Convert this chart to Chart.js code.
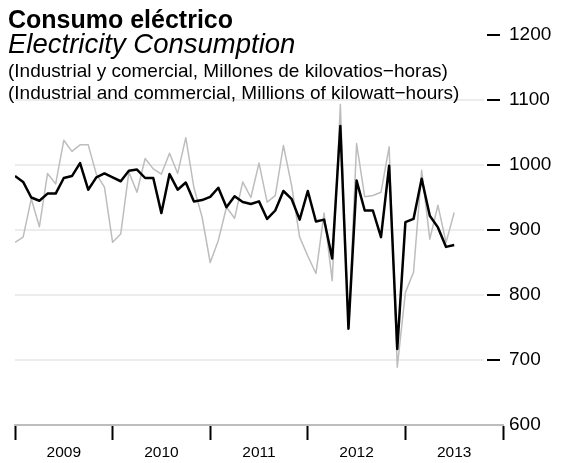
<!DOCTYPE html>
<html>
<head>
<meta charset="utf-8">
<script src="https://cdn.jsdelivr.net/npm/chart.js@4.4.1/dist/chart.umd.min.js"></script>
<style>
html,body{margin:0;padding:0;background:#fff;}
</style>
</head>
<body>
<canvas id="chart" width="576" height="463"></canvas>
<script>
// meses desde enero 2009 (0) hasta julio 2013 (54)
const yearLabels = ['2009', '2010', '2011', '2012', '2013'];
const yTicks = [600, 700, 800, 900, 1000, 1100, 1200];
const gridValues = [700, 800, 900, 1000, 1100];

// serie desestacionalizada (negro)
const ajustada = [
  983, 974, 950, 945, 956, 956, 980, 983, 1003, 962, 981, 987,
  981, 975, 991, 993, 980, 980, 926, 986, 962, 973, 944, 946,
  951, 965, 935, 952, 943, 940, 944, 917, 930, 960, 948, 916,
  960, 913, 916, 856, 1060, 748, 976, 930, 930, 889, 999, 717,
  912, 917, 979, 922, 904, 874, 877
];
// serie original (gris)
const original = [
  881, 889, 948, 905, 987, 971, 1038, 1021, 1031, 1031, 986, 966,
  881, 894, 989, 958, 1010, 994, 986, 1018, 987, 1042, 965, 920,
  850, 884, 935, 918, 974, 950, 1003, 943, 953, 1030, 969, 889,
  860, 833, 926, 822, 1093, 748, 1033, 951, 953, 958, 1028, 689,
  804, 835, 992, 886, 938, 881, 927
];

const titles = [
  { text: 'Consumo eléctrico', font: 'bold 25px "Liberation Sans", Arial, sans-serif', y: 28 },
  { text: 'Electricity Consumption', font: 'italic 27.5px "Liberation Sans", Arial, sans-serif', y: 53 },
  { text: '(Industrial y comercial, Millones de kilovatios\u2212horas)', font: '19px "Liberation Sans", Arial, sans-serif', y: 77 },
  { text: '(Industrial and commercial, Millions of kilowatt\u2212hours)', font: '19px "Liberation Sans", Arial, sans-serif', y: 99 }
];

const toPoints = arr => arr.map((v, i) => ({ x: i, y: v }));

const decor = {
  id: 'decor',
  beforeDatasetsDraw(chart) {
    const { ctx, chartArea, scales: { y } } = chart;
    ctx.save();
    ctx.strokeStyle = '#e6e6e6';
    ctx.lineWidth = 1.5;
    gridValues.forEach(v => {
      const py = y.getPixelForValue(v);
      ctx.beginPath();
      ctx.moveTo(chartArea.left, py);
      ctx.lineTo(chartArea.right - 19, py);
      ctx.stroke();
    });
    // marcas del eje derecho
    ctx.strokeStyle = '#000';
    ctx.lineWidth = 2;
    yTicks.slice(1).forEach(v => {
      const py = y.getPixelForValue(v);
      ctx.beginPath();
      ctx.moveTo(chartArea.right - 16, py);
      ctx.lineTo(chartArea.right - 3, py);
      ctx.stroke();
    });
    ctx.restore();
  },
  afterDraw(chart) {
    const ctx = chart.ctx;
    ctx.save();
    ctx.fillStyle = '#000';
    ctx.textBaseline = 'alphabetic';
    titles.forEach(t => {
      ctx.font = t.font;
      ctx.fillText(t.text, 8, t.y);
    });
    ctx.restore();
  }
};

new Chart(document.getElementById('chart'), {
  type: 'line',
  data: {
    datasets: [
      { data: toPoints(ajustada), borderColor: '#000', borderWidth: 2.5 },
      { data: toPoints(original), borderColor: '#bdbdbd', borderWidth: 1.5 }
    ]
  },
  options: {
    responsive: false,
    animation: false,
    layout: { padding: { left: 15, top: 35, right: 0, bottom: 0 } },
    elements: {
      point: { radius: 0 },
      line: { tension: 0, borderJoinStyle: 'round', fill: false }
    },
    plugins: { legend: { display: false }, tooltip: { enabled: false } },
    scales: {
      x: {
        type: 'linear',
        min: 0,
        max: yearLabels.length * 12,
        afterBuildTicks: s => {
          s.ticks = [];
          for (let m = 0; m <= yearLabels.length * 12; m += 6) s.ticks.push({ value: m });
        },
        afterFit: s => { s.height = 38; },
        ticks: {
          autoSkip: false,
          maxRotation: 0,
          padding: 3,
          color: '#000',
          font: { family: '"Liberation Sans", Arial, sans-serif', size: 15.5 },
          callback: v => (v % 12 === 6 ? yearLabels[(v - 6) / 12] : '')
        },
        grid: {
          drawOnChartArea: false,
          tickLength: 15,
          tickWidth: 2,
          tickColor: c => (c.tick && c.tick.value % 12 === 0 ? '#000' : 'rgba(0,0,0,0)')
        },
        border: { display: true, color: '#bdbdbd', width: 2 }
      },
      y: {
        position: 'right',
        min: 600,
        max: 1200,
        afterBuildTicks: s => { s.ticks = yTicks.map(v => ({ value: v })); },
        afterFit: s => { s.width = 73; },
        ticks: {
          padding: 6,
          color: '#000',
          font: { family: '"Liberation Sans", Arial, sans-serif', size: 19 },
          callback: v => String(v)
        },
        grid: { display: false, drawTicks: false },
        border: { display: false }
      }
    }
  },
  plugins: [decor]
});
</script>
</body>
</html>
